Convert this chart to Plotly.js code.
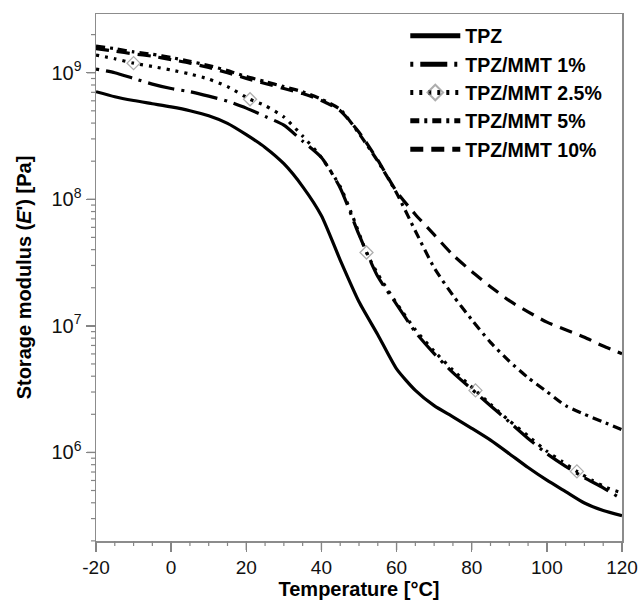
<!DOCTYPE html>
<html>
<head>
<meta charset="utf-8">
<script src="https://cdn.plot.ly/plotly-3.0.1.min.js"></script>
<style>html,body{margin:0;padding:0;background:#fff;}#chart{width:643px;height:603px;}</style>
</head>
<body>
<div id="chart"></div>
<script>
// Temperature [°C] and storage modulus E' [Pa]
const tempStep = [-20,-15,-10,-5,0,5,10,15,20,25,30,35,40,45,50,55,60,65,70,75,80,85,90,95,100,105,110,115,120];

const eTPZ = [7.08e8,6.46e8,6.03e8,5.69e8,5.37e8,5.01e8,4.57e8,3.98e8,3.24e8,2.57e8,1.91e8,1.26e8,7.41e7,3.31e7,1.55e7,8.51e6,4.57e6,3.09e6,2.34e6,1.91e6,1.55e6,1.25e6,9.77e5,7.59e5,6.03e5,4.90e5,3.98e5,3.47e5,3.16e5];

const eMMT1 = [1.07e9,1.00e9,9.02e8,8.13e8,7.50e8,7.08e8,6.53e8,5.96e8,5.25e8,4.52e8,3.85e8,2.88e8,2.14e8,1.23e8,5.25e7,2.45e7,1.48e7,8.91e6,6.03e6,4.27e6,3.16e6,2.34e6,1.74e6,1.29e6,9.77e5,7.76e5,6.31e5,5.25e5,4.27e5];

const temp25 = [-20,-15,-10,-5,0,5,10,15,21,25,30,35,40,45,48,52,55,60,65,70,75,81,85,90,95,100,104,108,112,116,120];
const eMMT25 = [1.38e9,1.29e9,1.19e9,1.12e9,1.05e9,9.77e8,8.91e8,7.76e8,6.17e8,5.50e8,4.47e8,3.16e8,2.14e8,1.26e8,7.76e7,3.80e7,2.57e7,1.51e7,9.33e6,6.31e6,4.47e6,3.09e6,2.40e6,1.78e6,1.35e6,1.02e6,8.51e5,7.08e5,6.03e5,5.25e5,4.79e5];
const markerTemps25 = [-10,21,52,81,108];

const eMMT5 = [1.62e9,1.55e9,1.46e9,1.40e9,1.32e9,1.23e9,1.14e9,1.04e9,9.33e8,8.51e8,7.76e8,7.08e8,6.17e8,5.13e8,3.31e8,2.00e8,1.12e8,5.62e7,2.88e7,1.74e7,1.12e7,7.41e6,5.25e6,3.89e6,3.02e6,2.34e6,2.00e6,1.74e6,1.51e6];

const eMMT10 = [1.55e9,1.48e9,1.41e9,1.35e9,1.27e9,1.19e9,1.10e9,1.00e9,9.02e8,8.22e8,7.50e8,6.84e8,6.03e8,5.01e8,3.39e8,2.04e8,1.15e8,7.59e7,5.25e7,3.63e7,2.69e7,2.04e7,1.58e7,1.29e7,1.07e7,9.33e6,8.13e6,6.92e6,6.03e6];

const seriesNames = ['TPZ','TPZ/MMT 1%','TPZ/MMT 2.5%','TPZ/MMT 5%','TPZ/MMT 10%'];

const xMajorTicks = [-20,0,20,40,60,80,100,120];
const xMajorLabels = ['-20','0','20','40','60','80','100','120'];
const yDecades = [6,7,8,9];

const XR = [-20,120], YR = [5.30, 9.464];
const yMajorTicks = yDecades.map(n => Math.pow(10, n));
const yMajorLabels = yDecades.map(n => '10<sup>' + n + '</sup>');

// tick marks as axis decorations in paper space (not clipped), derived from the axis ranges
const TICKC = '#858585';
const tickShapes = [];
for (let t = XR[0]; t <= XR[1]; t += 5) {
  const major = xMajorTicks.includes(t);
  const px = (t - XR[0]) / (XR[1] - XR[0]);
  tickShapes.push({type:'line', xref:'paper', yref:'paper', ysizemode:'pixel', yanchor:0,
    x0:px, x1:px, y0:0, y1: major ? -9 : -5, layer:'above',
    line:{color:TICKC, width: major ? 1.4 : 1.2}});
}
for (let n = 5; n <= 9; n++) for (let d = 1; d <= 9; d++) {
  const lv = Math.log10(d * Math.pow(10, n));
  if (lv < YR[0] || lv > YR[1]) continue;
  const py = (lv - YR[0]) / (YR[1] - YR[0]);
  tickShapes.push({type:'line', xref:'paper', yref:'paper', xsizemode:'pixel', xanchor:0,
    x0:0, x1: d === 1 ? -9 : -5, y0:py, y1:py, layer:'above',
    line:{color:TICKC, width: d === 1 ? 1.4 : 1.2}});
}

const FONT = 'Liberation Sans, Arial, Helvetica, sans-serif';
const lineBase = {color:'#000', width:3.2, shape:'spline', smoothing:0.6};

const traces = [
  {x: tempStep, y: eTPZ, name: seriesNames[0], mode:'lines',
   line: Object.assign({}, lineBase, {dash:'solid'})},
  {x: tempStep, y: eMMT1, name: seriesNames[1], mode:'lines',
   line: Object.assign({}, lineBase, {dash:'3px,7px,27px,7px'})},
  {x: temp25, y: eMMT25, name: seriesNames[2], mode:'lines+markers',
   line: Object.assign({}, lineBase, {dash:'3px,6px'}),
   marker: {symbol:'diamond-open', color:'#8a8a8a',
            size: temp25.map(t => markerTemps25.includes(t) ? 10 : 0),
            line:{width:1.3, color:'#8a8a8a'}}},
  {x: tempStep, y: eMMT5, name: seriesNames[3], mode:'lines',
   line: Object.assign({}, lineBase, {dash:'9px,5px,3px,5px'})},
  {x: tempStep, y: eMMT10, name: seriesNames[4], mode:'lines',
   line: Object.assign({}, lineBase, {dash:'13px,8px'})}
];

const axisCommon = {
  showline:true, linecolor:'#8c8c8c', linewidth:1.5, mirror:true,
  ticks:'outside', ticklen:9, tickwidth:1.4, tickcolor:TICKC,
  showgrid:false, zeroline:false, automargin:false,
  tickfont:{family:FONT, size:19, color:'#111'}
};

const layout = {
  width:643, height:603,
  margin:{l:96, r:21, t:14, b:62},
  paper_bgcolor:'#fff', plot_bgcolor:'#fff',
  showlegend:true,
  legend:{x:0.588, y:0.995, xanchor:'left', yanchor:'top',
          bgcolor:'rgba(0,0,0,0)', borderwidth:0, itemwidth:50,
          itemsizing:'constant',
          font:{family:FONT, size:19.5, color:'#000', weight:'bold'}},
  xaxis: Object.assign({}, axisCommon, {
    range:XR, tickmode:'array', tickvals:xMajorTicks, ticktext:xMajorLabels,
    title:{text:'Temperature [°C]', standoff:0,
           font:{family:FONT, size:20, color:'#000', weight:'bold'}}
  }),
  yaxis: Object.assign({}, axisCommon, {
    type:'log', range:YR, tickmode:'array', tickvals:yMajorTicks, ticktext:yMajorLabels,
    tickfont:{family:FONT, size:20, color:'#111'},
    title:{text:"Storage modulus (<i>E</i>') [Pa]", standoff:14,
           font:{family:FONT, size:20, color:'#000', weight:'bold'}}
  }),
  shapes: tickShapes
};

Plotly.newPlot('chart', traces, layout, {displayModeBar:false, staticPlot:true});
</script>
</body>
</html>
